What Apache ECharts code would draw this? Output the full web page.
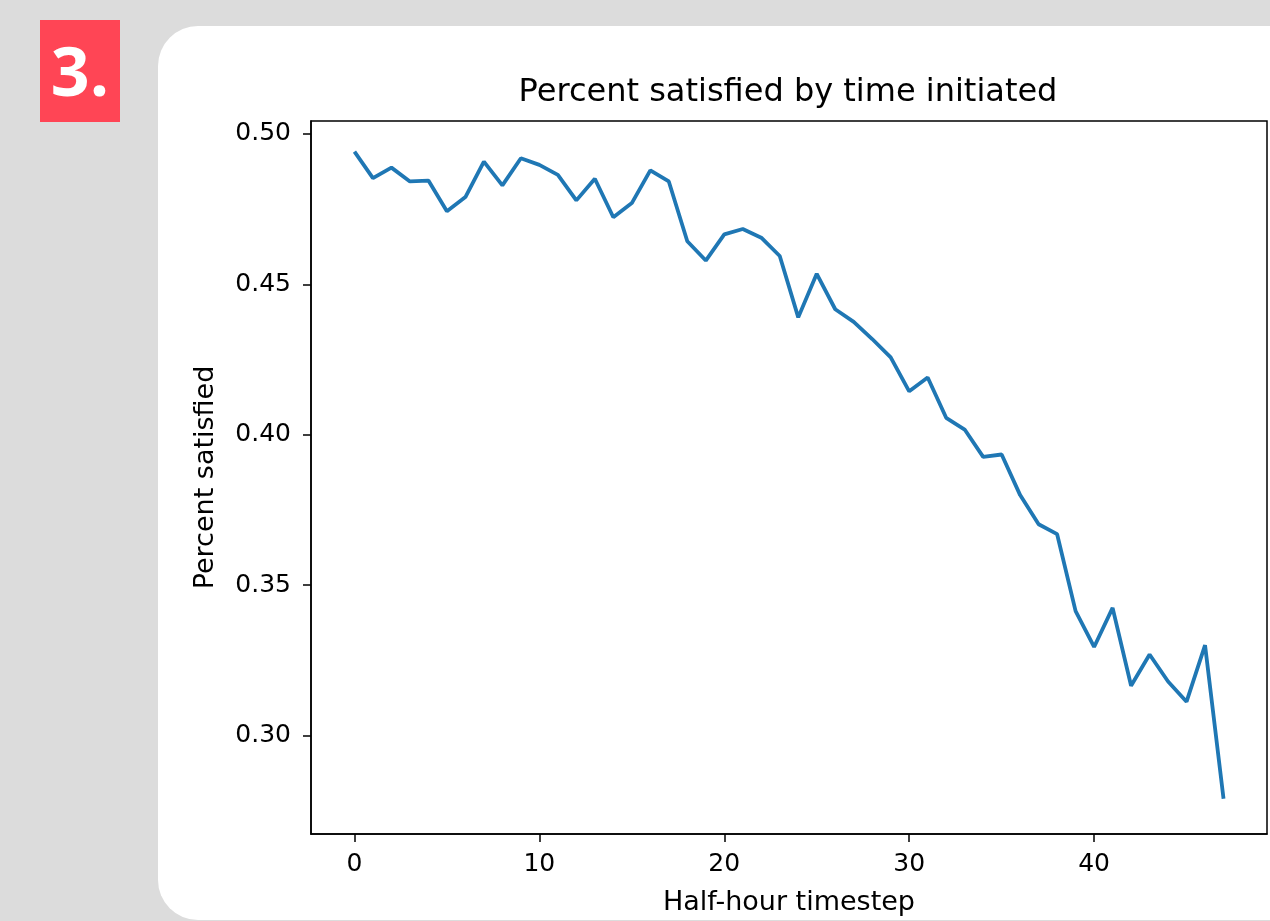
<!DOCTYPE html>
<html>
<head>
<meta charset="utf-8">
<script src="https://cdn.jsdelivr.net/npm/echarts@6/dist/echarts.min.js"></script>
<style>
  html, body { margin: 0; padding: 0; width: 1270px; height: 921px; overflow: hidden; background: #dcdcdc; }
  #panel { position: absolute; left: 158px; top: 26px; width: 1200px; height: 894px; background: #fff; border-radius: 40px; }
  #badge { position: absolute; left: 40px; top: 20px; width: 80px; height: 102px; background: #ff4555;
           color: #fff; font: bold 68px "Open Sans", sans-serif; line-height: 100px; text-align: center; }
  #chart { position: absolute; left: 0; top: 0; width: 1270px; height: 921px; }
</style>
</head>
<body>
<div id="panel"></div>
<div id="badge">3.</div>
<div id="chart"></div>
<script>
// half-hour timestep and share of satisfied requests
const steps = [0, 1, 2, 3, 4, 5, 6, 7, 8, 9, 10, 11, 12, 13, 14, 15, 16, 17, 18, 19, 20, 21, 22, 23,
  24, 25, 26, 27, 28, 29, 30, 31, 32, 33, 34, 35, 36, 37, 38, 39, 40, 41, 42, 43, 44, 45, 46, 47];
const satisfied = [0.4941, 0.4853, 0.4888, 0.4842, 0.4845, 0.4743, 0.4790, 0.4908, 0.4829, 0.4919,
  0.4897, 0.4864, 0.4779, 0.4851, 0.4723, 0.4770, 0.4879, 0.4842, 0.4643, 0.4579, 0.4666, 0.4684,
  0.4655, 0.4594, 0.4390, 0.4535, 0.4417, 0.4375, 0.4318, 0.4257, 0.4144, 0.4190, 0.4056, 0.4017,
  0.3926, 0.3934, 0.3799, 0.3702, 0.3669, 0.3413, 0.3294, 0.3424, 0.3165, 0.3269, 0.3179, 0.3112,
  0.3300, 0.2789];
const xTicks = [0, 10, 20, 30, 40];
const yTicks = [0.30, 0.35, 0.40, 0.45, 0.50];

{
  const font = "DejaVu Sans";
  const myChart = echarts.init(document.getElementById("chart"));
  const option = {
    animation: false,
    title: {
      text: "Percent satisfied by time initiated",
      left: 783,
      top: 72,
      textAlign: "center",
      textStyle: { fontFamily: font, fontSize: 32, fontWeight: "normal", color: "#000" },
    },
    grid: {
      left: 311, top: 121, width: 956, height: 713,
      show: true, borderColor: "#000", borderWidth: 1.5, backgroundColor: "transparent",
    },
    xAxis: {
      type: "value",
      min: -2.35,
      max: 49.35,
      name: "Half-hour timestep",
      nameLocation: "middle",
      nameGap: 55,
      nameTextStyle: { fontFamily: font, fontSize: 27, color: "#000" },
      splitLine: { show: false },
      axisLine: { show: true, onZero: false, lineStyle: { color: "#000", width: 1.5 } },
      axisTick: { show: true, length: 8, customValues: xTicks, lineStyle: { color: "#000", width: 1.5 } },
      axisLabel: { customValues: xTicks, margin: 18, fontFamily: font, fontSize: 25, color: "#000" },
    },
    yAxis: {
      type: "value",
      min: 0.2672,
      max: 0.5043,
      name: "Percent satisfied",
      nameLocation: "middle",
      nameGap: 92,
      nameTextStyle: { fontFamily: font, fontSize: 27, color: "#000" },
      splitLine: { show: false },
      axisLine: { show: true, onZero: false, lineStyle: { color: "#000", width: 1.5 } },
      axisTick: { show: true, length: 8, customValues: yTicks, lineStyle: { color: "#000", width: 1.5 } },
      axisLabel: {
        customValues: yTicks, margin: 20, fontFamily: font, fontSize: 25, color: "#000",
        padding: [5, 0, 0, 0],
        formatter: (v) => v.toFixed(2),
      },
    },
    series: [
      {
        type: "line",
        data: steps.map((s, i) => [s, satisfied[i]]),
        showSymbol: false,
        lineStyle: { color: "#1f77b4", width: 3.8 },
      },
    ],
  };
  myChart.setOption(option);
}
</script>
</body>
</html>
